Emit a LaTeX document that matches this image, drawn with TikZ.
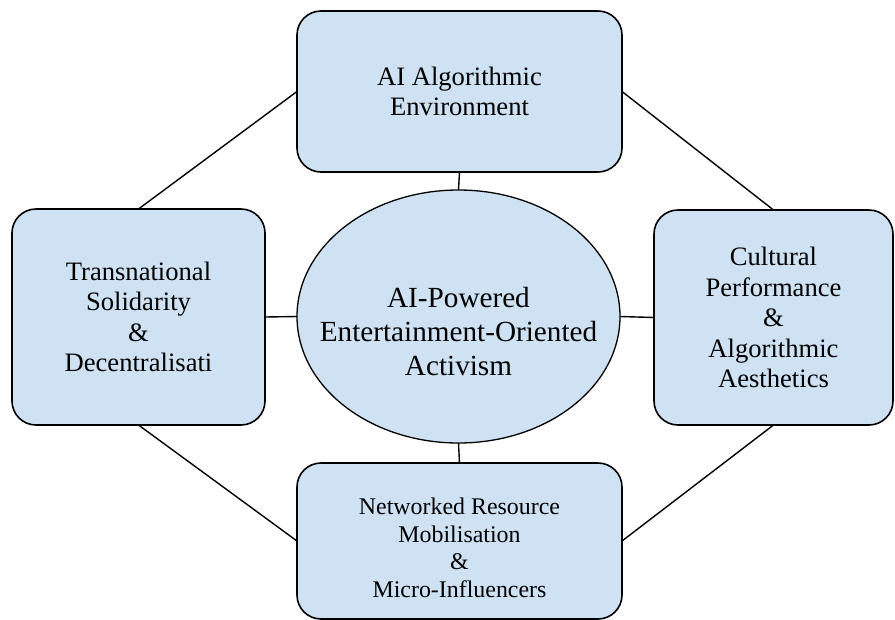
\documentclass[tikz,border=0pt]{standalone}
\usepackage{fontspec}
\setmainfont{Liberation Serif}[Ligatures=TeX]
\newfontfamily\labelface{Liberation Serif}
\usetikzlibrary{shapes.geometric}
\definecolor{boxfill}{RGB}{207,226,243}
\tikzset{
  stage/.style={draw=black, line width=1.6pt, fill=boxfill, rounded corners=24pt,
    align=center, inner sep=0pt, outer sep=0pt,
    font=\labelface\fontsize{26.6}{30.5}\selectfont},
  hub/.style={draw=black, line width=1.3pt, fill=boxfill, ellipse,
    inner sep=0pt, outer sep=0pt},
  hubtext/.style={align=center, inner sep=0pt,
    font=\labelface\fontsize{29.2}{34}\selectfont},
  smalltext/.style={align=center, inner sep=0pt,
    font=\labelface\fontsize{23.9}{27.5}\selectfont},
  link/.style={draw=black, line width=1.4pt}
}
\begin{document}
\begin{tikzpicture}[x=1pt, y=-1pt]
\useasboundingbox (0,0) rectangle (895,619);

% central ellipse, its text sits a little below the middle
\node[hub, minimum width=323pt, minimum height=253pt] (core) at (458.5,316.5) {};
\node[hubtext] (coretext) at ([yshift=-15pt]core.center)
  {AI-Powered\\Entertainment-Oriented\\Activism};

\node[stage, minimum width=325pt, minimum height=161pt] (env) at (459.5,91.5)
  {AI Algorithmic\\Environment};
\node[stage, minimum width=253pt, minimum height=216pt] (trans) at (138.5,317)
  {Transnational\\Solidarity\\\&\\Decentralisati};
\node[stage, minimum width=239pt, minimum height=215pt] (cult) at (773.5,317.5)
  {Cultural\\Performance\\\&\\Algorithmic\\Aesthetics};
\node[stage, minimum width=325pt, minimum height=156pt] (net) at (459.5,541) {};
\node[smalltext] (nettext) at ([yshift=-7pt]net.center)
  {Networked Resource\\Mobilisation\\\&\\Micro-Influencers};

% spokes to the central ellipse
\draw[link] (env.south) -- (core.north);
\draw[link] (net.north) -- (core.south);
\draw[link] (trans.east) -- (core.west);
\draw[link] (cult.west) -- (core.east);

% outer ring
\draw[link] (env.west) -- (trans.north);
\draw[link] (env.east) -- (cult.north);
\draw[link] (trans.south) -- (net.west);
\draw[link] (cult.south) -- (net.east);
\end{tikzpicture}
\end{document}
